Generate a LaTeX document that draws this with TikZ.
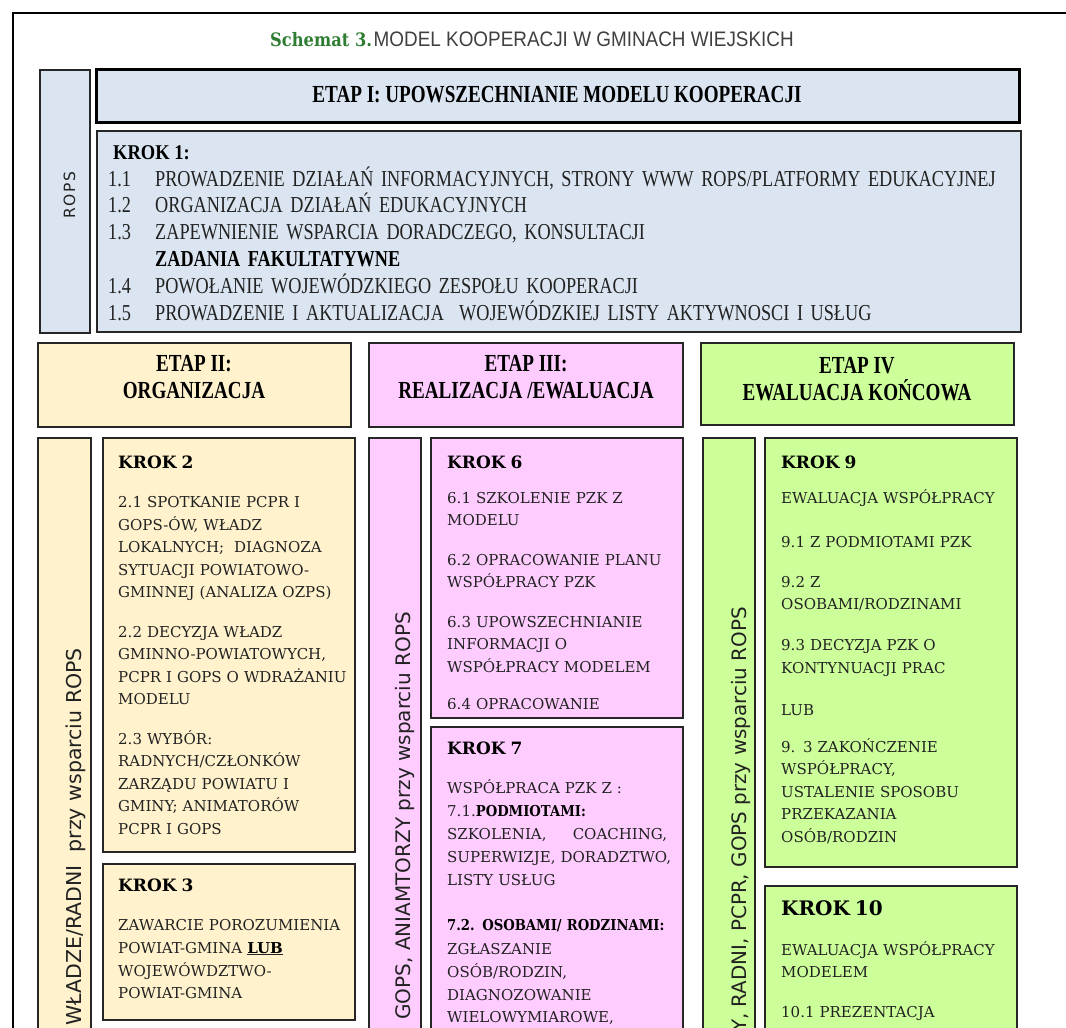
\documentclass[tikz,border=0pt]{standalone}
\usepackage{fontspec}
\setmainfont{Liberation Serif}
\newfontfamily\condf[FakeStretch=0.88]{Liberation Serif}
\newfontfamily\condk[FakeStretch=0.8]{Liberation Serif}
\newfontfamily\condh[FakeStretch=0.78]{Liberation Serif}
\newfontfamily\slabf{DejaVu Serif}
\newfontfamily\slabc[FakeStretch=0.88]{DejaVu Serif}
\newfontfamily\vsans{DejaVu Sans}
\newfontfamily\titsans[FakeStretch=0.9]{Liberation Sans}
\definecolor{blfill}{HTML}{DBE5F1}
\definecolor{tanfill}{HTML}{FFF2CC}
\definecolor{pkfill}{HTML}{FFCCFF}
\definecolor{grfill}{HTML}{CCFF99}
\definecolor{titgreen}{HTML}{2E7D32}
\definecolor{titgray}{HTML}{404040}
\definecolor{txt}{HTML}{222222}
\tikzset{
  frameline/.style={line width=2.5pt, draw=black},
  boxline/.style={draw=black!85, line width=1.3pt},
  etapone/.style={draw=black, line width=3pt, fill=blfill},
  hdr/.style={font=\condh\bfseries\fontsize{24.5}{27}\selectfont, align=center, text=black, inner sep=0pt},
  k1head/.style={font=\condf\bfseries\fontsize{21}{27}\selectfont, text=black, inner sep=0pt, anchor=base west},
  k1text/.style={font=\condk\fontsize{22.8}{26.8}\selectfont, text=txt, align=left, text width=950pt, inner sep=0pt, anchor=base west},
  steptext/.style={font=\slabf\fontsize{15}{22.5}\selectfont, text=txt, align=left, text width=300pt, inner sep=0pt, anchor=base west},
  vlab/.style={font=\vsans\fontsize{20.5}{22}\selectfont, text=txt, inner sep=0pt, rotate=90, anchor=base east},
}
\newcommand{\khead}[1]{{\bfseries\fontsize{17}{22.5}\selectfont\color{black}#1}}
\newcommand{\kbold}[1]{{\slabc\bfseries\color{black}#1}}
\begin{document}
\begin{tikzpicture}[x=1pt,y=-1pt]
\useasboundingbox (0,0) rectangle (1066,1028);
\clip (0,0) rectangle (1066,1028);
\fill[white] (0,0) rectangle (1066,1028);
% outer frame
\draw[frameline] (13,1040) -- (13,13) -- (1070,13);
% title
\node[anchor=base, inner sep=0pt] (title) at (532,46) {{\slabc\bfseries\fontsize{18.5}{20}\selectfont\color{titgreen}Schemat 3.}\,{\titsans\fontsize{21}{20}\selectfont\color{titgray}MODEL KOOPERACJI W GMINACH WIEJSKICH}};
% ETAP I
\draw[boxline, fill=blfill] (40,70) rectangle (90,333);
\draw[etapone] (96,69) rectangle (1019,122);
\draw[boxline, fill=blfill] (97,131) rectangle (1021,332);
\node[font=\vsans\fontsize{15.5}{18}\selectfont\addfontfeature{LetterSpace=10}, text=txt, rotate=90, anchor=base, inner sep=0pt] (rops) at (75,195) {ROPS};
\node[hdr] (e1) at (557,95) {ETAP I: UPOWSZECHNIANIE MODELU KOOPERACJI};
\node[k1head] (k1h) at (113,159) {KROK 1:};
\node[k1text] (k1) at (108,186) {\makebox[47pt][l]{1.1}PROWADZENIE DZIAŁAŃ INFORMACYJNYCH, STRONY WWW ROPS/PLATFORMY EDUKACYJNEJ\\
\makebox[47pt][l]{1.2}ORGANIZACJA DZIAŁAŃ EDUKACYJNYCH\\
\makebox[47pt][l]{1.3}ZAPEWNIENIE WSPARCIA DORADCZEGO, KONSULTACJI\\
\hspace*{47pt}{\bfseries\color{black}ZADANIA FAKULTATYWNE}\\
\makebox[47pt][l]{1.4}POWOŁANIE WOJEWÓDZKIEGO ZESPOŁU KOOPERACJI\\
\makebox[47pt][l]{1.5}PROWADZENIE I AKTUALIZACJA\ \ WOJEWÓDZKIEJ LISTY AKTYWNOSCI I USŁUG};
% ETAP II-IV headers
\draw[boxline, fill=tanfill] (38,343) rectangle (351,427);
\draw[boxline, fill=pkfill] (369,343) rectangle (683,427);
\draw[boxline, fill=grfill] (701,343) rectangle (1014,425);
\node[hdr] (e2) at (194,377) {ETAP II:\\ORGANIZACJA};
\node[hdr] (e3) at (526,377) {ETAP III:\\REALIZACJA /EWALUACJA};
\node[hdr] (e4) at (857,379) {ETAP IV\\EWALUACJA KOŃCOWA};
% column side bars
\draw[boxline, fill=tanfill] (38,438) rectangle (91,1040);
\draw[boxline, fill=pkfill] (369,438) rectangle (421,1040);
\draw[boxline, fill=grfill] (703,438) rectangle (755,1040);
\node[vlab] (v1) at (81,648) {WŁADZE/RADNI\ \ przy wsparciu ROPS};
\node[vlab, font=\vsans\fontsize{20}{22}\selectfont] (v2) at (410,612) {GOPS, ANIAMTORZY przy wsparciu ROPS};
\node[vlab, font=\vsans\fontsize{19.9}{22}\selectfont] (v3) at (746,607) {Y, RADNI, PCPR, GOPS przy wsparciu ROPS};
% step boxes
\draw[boxline, fill=tanfill] (103,438) rectangle (355,852);
\draw[boxline, fill=tanfill] (103,864) rectangle (355,1020);
\draw[boxline, fill=pkfill] (431,438) rectangle (683,718);
\draw[boxline, fill=pkfill] (431,727) rectangle (683,1040);
\draw[boxline, fill=grfill] (765,438) rectangle (1017,867);
\draw[boxline, fill=grfill] (765,886) rectangle (1017,1040);
% KROK 2
\node[steptext] (k2) at (118,468) {\khead{KROK 2}\\[17pt]
2.1 SPOTKANIE PCPR I\\
GOPS-ÓW, WŁADZ\\
LOKALNYCH;\ \ DIAGNOZA\\
SYTUACJI POWIATOWO-\\
GMINNEJ (ANALIZA OZPS)\\[17pt]
2.2 DECYZJA WŁADZ\\
GMINNO-POWIATOWYCH,\\
PCPR I GOPS O WDRAŻANIU\\
MODELU\\[17pt]
2.3 WYBÓR:\\
RADNYCH/CZŁONKÓW\\
ZARZĄDU POWIATU I\\
GMINY; ANIMATORÓW\\
PCPR I GOPS};
% KROK 3
\node[steptext] (k3) at (118,891) {\fontsize{15}{23}\selectfont\khead{KROK 3}\\[16pt]
ZAWARCIE POROZUMIENIA\\
POWIAT-GMINA \underline{\textbf{\color{black}LUB}}\\
WOJEWÓWDZTWO-\\
POWIAT-GMINA};
% KROK 6
\begin{scope}
\clip (431,438) rectangle (683,708);
\node[steptext] (k6) at (447,468) {\khead{KROK 6}\\[12.5pt]
6.1 SZKOLENIE PZK Z\\
MODELU\\[17pt]
6.2 OPRACOWANIE PLANU\\
WSPÓŁPRACY PZK\\[17pt]
6.3 UPOWSZECHNIANIE\\
INFORMACJI O\\
WSPÓŁPRACY MODELEM\\[15pt]
6.4 OPRACOWANIE};
\end{scope}
% KROK 7
\node[steptext] (k7) at (447,754) {\fontsize{15}{23.2}\selectfont\khead{KROK 7}\\[15.8pt]
WSPÓŁPRACA PZK Z :\\
7.1.\kbold{PODMIOTAMI:}\\
\makebox[220pt][l]{SZKOLENIA,\hfill COACHING,}\\
SUPERWIZJE, DORADZTWO,\\
LISTY USŁUG\\[21.8pt]
\kbold{7.2. OSOBAMI/ RODZINAMI:}\\
ZGŁASZANIE\\
OSÓB/RODZIN,\\
DIAGNOZOWANIE\\
WIELOWYMIAROWE,};
% KROK 9
\node[steptext] (k9) at (781,468) {\khead{KROK 9}\\[12.5pt]
EWALUACJA WSPÓŁPRACY\\[21.5pt]
9.1 Z PODMIOTAMI PZK\\[17.5pt]
9.2 Z\\
OSOBAMI/RODZINAMI\\[18.5pt]
9.3 DECYZJA PZK O\\
KONTYNUACJI PRAC\\[19.5pt]
LUB\\[14.5pt]
9. 3 ZAKOŃCZENIE\\
WSPÓŁPRACY,\\
USTALENIE SPOSOBU\\
PRZEKAZANIA\\
OSÓB/RODZIN};
% KROK 10
\node[steptext] (k10) at (781,915) {{\bfseries\fontsize{20}{22.5}\selectfont\color{black}KROK 10}\\[17.5pt]
EWALUACJA WSPÓŁPRACY\\
MODELEM\\[17.5pt]
10.1 PREZENTACJA};
\end{tikzpicture}
\end{document}
